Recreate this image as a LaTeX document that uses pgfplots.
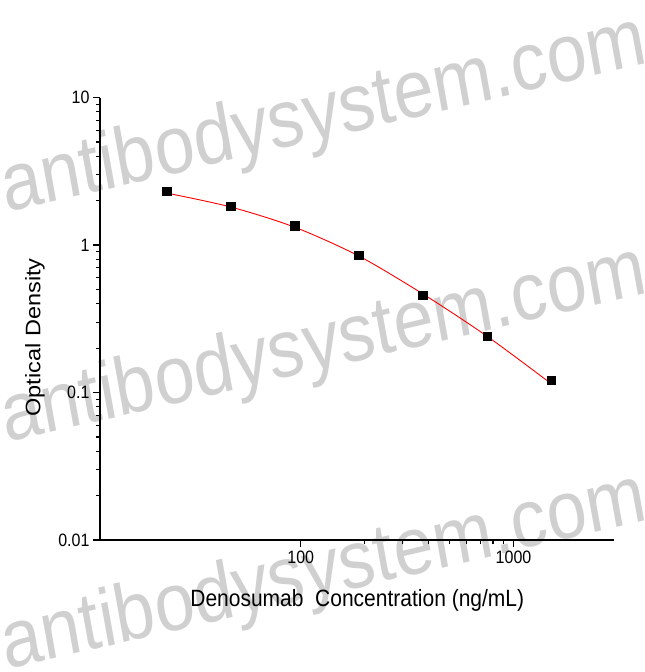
\documentclass[border=0pt]{standalone}
\usepackage{fontspec}
\setmainfont{Liberation Sans}
\usepackage{pgfplots}
\pgfplotsset{compat=1.18}

\definecolor{wmgray}{RGB}{208,208,208}
\definecolor{fitred}{RGB}{255,0,0}

\begin{document}
\begin{tikzpicture}
\path[use as bounding box] (0pt,0pt) rectangle (645pt,672pt);

% watermark, behind the chart
\foreach \yy in {459,229,2}{
  \node[anchor=base west, yscale=1.14, rotate=11.6, text=wmgray,
        font=\fontsize{72}{80}\selectfont, inner sep=0pt]
    at (6pt,\yy pt) {antibodysystem.com};
}

\begin{axis}[
    at={(100pt,132pt)}, anchor=south west,
    scale only axis,
    width=513.5pt, height=442.5pt,
    xmode=log, ymode=log,
    xmin=11.4, xmax=2950,
    ymin=0.01, ymax=10,
    axis x line*=bottom, axis y line*=left,
    axis line style={line width=1.2pt, -},
    tick align=outside,
    tick style={line width=1.2pt, black},
    major tick length=7pt,
    minor tick length=4pt,
    xtick={100,1000},
    ytick={0.01,0.1,1,10},
    log ticks with fixed point,
    /pgf/number format/1000 sep={},
    /pgf/number format/assume math mode=true,
    ticklabel style={font=\fontsize{16}{18}\selectfont, yscale=1.12},
    xlabel={Denosumab\ \ Concentration (ng/mL)},
    ylabel={Optical Density},
    xlabel style={at={(axis description cs:0.501,-0.1356)}, anchor=center,
                  font=\fontsize{21}{24}\selectfont, yscale=1.12},
    ylabel style={at={(axis description cs:-0.1266,0.4576)}, anchor=center,
                  font=\fontsize{21}{24}\selectfont, xscale=1.12},
    clip=false,
]
% measured points
\addplot[only marks, mark=square*, mark size=4.2pt, black] coordinates {
    (23.44,2.32) (46.88,1.84) (93.75,1.35) (187.5,0.851)
    (375,0.456) (750,0.241) (1500,0.121)
};
% fitted curve
\addplot[fitred, line width=0.9pt, smooth, no marks] coordinates {
    (23.44,2.25) (46.88,1.81) (93.75,1.32) (187.5,0.842)
    (375,0.466) (750,0.241) (1500,0.115)
};
\end{axis}
\end{tikzpicture}
\end{document}
